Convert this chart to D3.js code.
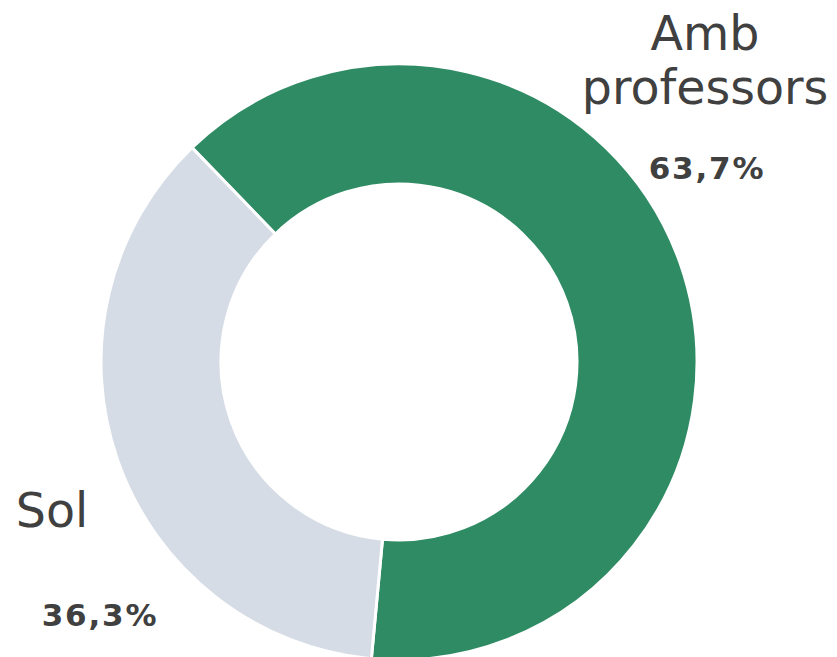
<!DOCTYPE html>
<html><head><meta charset="utf-8">
<script src="https://cdn.jsdelivr.net/npm/d3@7"></script>
<style>html,body{margin:0;padding:0;background:#fff;}</style>
</head><body>
<svg id="chart" width="837" height="657"></svg>
<script>
const categories = ["Amb professors", "Sol"];
const values = [63.7, 36.3];
const valueLabels = ["63,7%", "36,3%"];
const colors = ["#2f8b64", "#d6dce6"];

const svg = d3.select("#chart");
const cx = 399, cy = 362, outerR = 298, innerR = 178;
const startDeg = -44;
const pie = d3.pie().sort(null).value(d => d)
  .startAngle(startDeg * Math.PI / 180)
  .endAngle((startDeg + 360) * Math.PI / 180);
const arc = d3.arc().innerRadius(innerR).outerRadius(outerR);
const g = svg.append("g").attr("transform", `translate(${cx},${cy})`);
g.selectAll("path").data(pie(values)).join("path")
  .attr("d", arc)
  .attr("fill", (d, i) => colors[i])
  .attr("stroke", "#fff").attr("stroke-width", 3);

const font = "DejaVu Sans, Verdana, sans-serif";
const labelPos = [
  {x: 705, y: 50, vx: 707, vy: 179},
  {x: 52, y: 527, vx: 100, vy: 626}
];
const lineH = 54;
categories.forEach((c, i) => {
  const p = labelPos[i];
  c.split(" ").forEach((w, j) => {
    svg.append("text").attr("x", p.x).attr("y", p.y + j * lineH)
      .attr("text-anchor", "middle").attr("font-family", font)
      .attr("font-size", 47.5).attr("fill", "#404040").text(w);
  });
  svg.append("text").attr("x", p.vx).attr("y", p.vy)
    .attr("text-anchor", "middle").attr("font-family", font)
    .attr("font-weight", "bold").attr("font-size", 31).attr("fill", "#404040")
    .attr("letter-spacing", 1.8)
    .text(valueLabels[i]);
});
</script>
</body></html>
